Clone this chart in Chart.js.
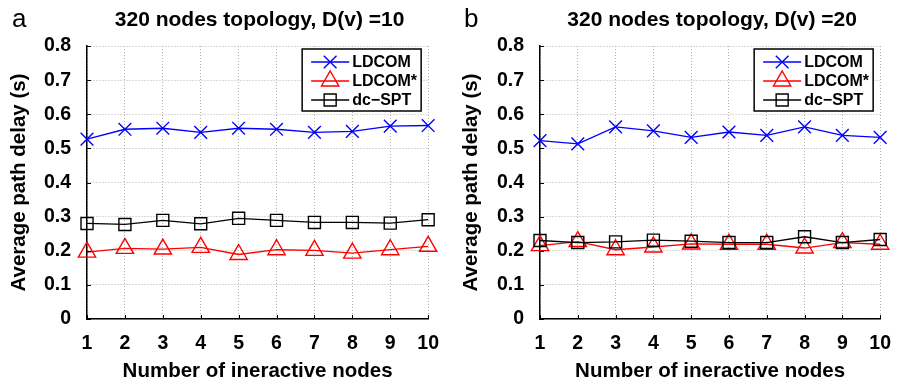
<!DOCTYPE html>
<html><head><meta charset="utf-8">
<script src="https://cdn.jsdelivr.net/npm/chart.js@4/dist/chart.umd.min.js"></script>
<style>
html,body{margin:0;padding:0;background:#fff;}
#wrap{position:relative;width:904px;height:388px;overflow:hidden;}
.pane{position:absolute;top:0;width:452px;height:388px;}
</style></head>
<body><div id="wrap">
<div class="pane" style="left:0"><canvas id="ca" width="452" height="388"></canvas></div>
<div class="pane" style="left:452px"><canvas id="cb" width="452" height="388"></canvas></div>
</div>
<script>
// ---- data ----
const nodes = [1, 2, 3, 4, 5, 6, 7, 8, 9, 10];
const yTicks = [0, 0.1, 0.2, 0.3, 0.4, 0.5, 0.6, 0.7, 0.8];
const seriesNames = ['LDCOM', 'LDCOM*', 'dc\u2212SPT'];
const panelTitles = ['320 nodes topology, D(v) =10', '320 nodes topology, D(v) =20'];
const panelLetters = ['a', 'b'];
const xAxisTitle = 'Number of ineractive nodes';
const yAxisTitle = 'Average path delay (s)';

const a_LDCOM     = [0.527, 0.556, 0.559, 0.547, 0.559, 0.556, 0.547, 0.550, 0.565, 0.567];
const a_LDCOMstar = [0.196, 0.207, 0.205, 0.210, 0.189, 0.203, 0.201, 0.193, 0.203, 0.213];
const a_dcSPT     = [0.280, 0.277, 0.289, 0.279, 0.295, 0.289, 0.283, 0.283, 0.281, 0.291];

const b_LDCOM     = [0.523, 0.513, 0.563, 0.551, 0.532, 0.548, 0.538, 0.563, 0.538, 0.532];
const b_LDCOMstar = [0.215, 0.227, 0.203, 0.211, 0.220, 0.219, 0.219, 0.208, 0.224, 0.219];
const b_dcSPT     = [0.230, 0.224, 0.226, 0.231, 0.228, 0.224, 0.224, 0.241, 0.224, 0.233];

// ---- styling ----
const FONT = "'Liberation Sans', Arial, Helvetica, sans-serif";
const styles = [
  {color: '#0000ff', pointStyle: 'crossRot', radius: 9},
  {color: '#ff0000', pointStyle: 'triangle', radius: 10},
  {color: '#000000', pointStyle: 'rect', radius: 8.5}
];

function makeDatasets(arrs) {
  return arrs.map((d, i) => ({
    label: seriesNames[i],
    data: d,
    borderColor: styles[i].color,
    backgroundColor: 'rgba(0,0,0,0)',
    pointBorderColor: styles[i].color,
    pointBackgroundColor: 'rgba(0,0,0,0)',
    pointStyle: styles[i].pointStyle,
    pointRadius: styles[i].radius,
    pointBorderWidth: 1.4,
    borderWidth: 1.3,
    tension: 0,
    clip: false,
    order: 3 - i
  }));
}

function drawMarker(ctx, style, x, y, r) {
  ctx.beginPath();
  if (style === 'crossRot') {
    const o = r * Math.SQRT1_2;
    ctx.moveTo(x - o, y - o); ctx.lineTo(x + o, y + o);
    ctx.moveTo(x - o, y + o); ctx.lineTo(x + o, y - o);
  } else if (style === 'triangle') {
    for (let k = 0; k < 3; k++) {
      const a = k * 2 * Math.PI / 3;
      const px = x + Math.sin(a) * r, py = y - Math.cos(a) * r;
      if (k === 0) ctx.moveTo(px, py); else ctx.lineTo(px, py);
    }
    ctx.closePath();
  } else {
    const s = r * Math.SQRT1_2;
    ctx.rect(x - s, y - s, 2 * s, 2 * s);
  }
  ctx.stroke();
}

const decorPlugin = {
  id: 'decor',
  afterDraw(chart, args, opts) {
    const {ctx, chartArea: ca} = chart;
    const xs = chart.scales.x, ys = chart.scales.y;
    ctx.save();
    // inner tick marks
    ctx.strokeStyle = '#000'; ctx.lineWidth = 1;
    ctx.beginPath();
    xs.ticks.forEach((t, i) => { const px = Math.round(xs.getPixelForTick(i)) + 0.5; ctx.moveTo(px, ca.bottom); ctx.lineTo(px, ca.bottom - 4); });
    ys.ticks.forEach((t, i) => { const py = Math.round(ys.getPixelForTick(i)) + 0.5; ctx.moveTo(ca.left, py); ctx.lineTo(ca.left + 4, py); });
    ctx.stroke();
    // title
    ctx.fillStyle = '#000';
    ctx.font = "bold 21px " + FONT;
    ctx.textAlign = 'center'; ctx.textBaseline = 'alphabetic';
    ctx.fillText(opts.title, (ca.left + ca.right) / 2 + 2, 26);
    // panel letter
    ctx.font = "26px " + FONT;
    ctx.textAlign = 'left';
    ctx.fillText(opts.letter, 12, 27);
    // legend
    const bw = 119, bh = 62;
    const bx = ca.right - 7 - bw, by = ca.top + 3;
    ctx.fillStyle = '#fff';
    ctx.fillRect(bx, by, bw, bh);
    ctx.strokeStyle = '#000'; ctx.lineWidth = 1.5;
    ctx.strokeRect(bx, by, bw, bh);
    const rows = [13, 32, 51];
    ctx.font = "bold 16px " + FONT;
    ctx.textBaseline = 'middle';
    chart.data.datasets.forEach((ds, i) => {
      const yy = by + rows[i];
      ctx.strokeStyle = ds.borderColor; ctx.lineWidth = 1.3;
      ctx.beginPath(); ctx.moveTo(bx + 9, yy); ctx.lineTo(bx + 47, yy); ctx.stroke();
      ctx.lineWidth = 1.4;
      drawMarker(ctx, ds.pointStyle, bx + 28, yy, ds.pointRadius);
      ctx.fillStyle = '#000';
      ctx.fillText(ds.label, bx + 50, yy + 1);
    });
    ctx.restore();
  }
};

function makeChart(id, arrs, idx, leftW, rightPad) {
  return new Chart(document.getElementById(id), {
    type: 'line',
    data: {labels: nodes, datasets: makeDatasets(arrs)},
    options: {
      responsive: false,
      animation: false,
      devicePixelRatio: 1,
      layout: {padding: {left: 0, right: rightPad, top: 46, bottom: 0}},
      plugins: {
        legend: {display: false},
        title: {display: false},
        tooltip: {enabled: false},
        decor: {title: panelTitles[idx], letter: panelLetters[idx]}
      },
      scales: {
        x: {
          type: 'category',
          offset: false,
          grid: {display: true, color: '#b4b4b4', lineWidth: 1, drawTicks: false},
          border: {display: true, color: '#000', width: 1.5, dash: [1, 2]},
          ticks: {color: '#000', font: {family: FONT, size: 19.5, weight: 'bold'}, padding: 13, maxRotation: 0, autoSkip: false},
          title: {display: true, text: xAxisTitle, color: '#000', font: {family: FONT, size: 20.5, weight: 'bold'}, padding: {top: 0, bottom: 4}},
          afterFit(s) { s.height = 69; }
        },
        y: {
          min: 0, max: 0.8,
          grid: {display: true, color: '#b4b4b4', lineWidth: 1, drawTicks: false},
          border: {display: true, color: '#000', width: 1.5, dash: [1, 2]},
          afterBuildTicks(s) { s.ticks = yTicks.map(v => ({value: v})); },
          ticks: {color: '#000', font: {family: FONT, size: 19.5, weight: 'bold'}, padding: 16,
                  callback: (v) => String(Math.round(v * 10) / 10)},
          title: {display: true, text: yAxisTitle, color: '#000', font: {family: FONT, size: 20.5, weight: 'bold'}, padding: {top: 7, bottom: 0}},
          afterFit(s) { s.width = leftW; }
        }
      }
    },
    plugins: [decorPlugin]
  });
}

makeChart('ca', [a_LDCOM, a_LDCOMstar, a_dcSPT], 0, 87, 12);
makeChart('cb', [b_LDCOM, b_LDCOMstar, b_dcSPT], 1, 88, 11);
</script>
</body></html>
